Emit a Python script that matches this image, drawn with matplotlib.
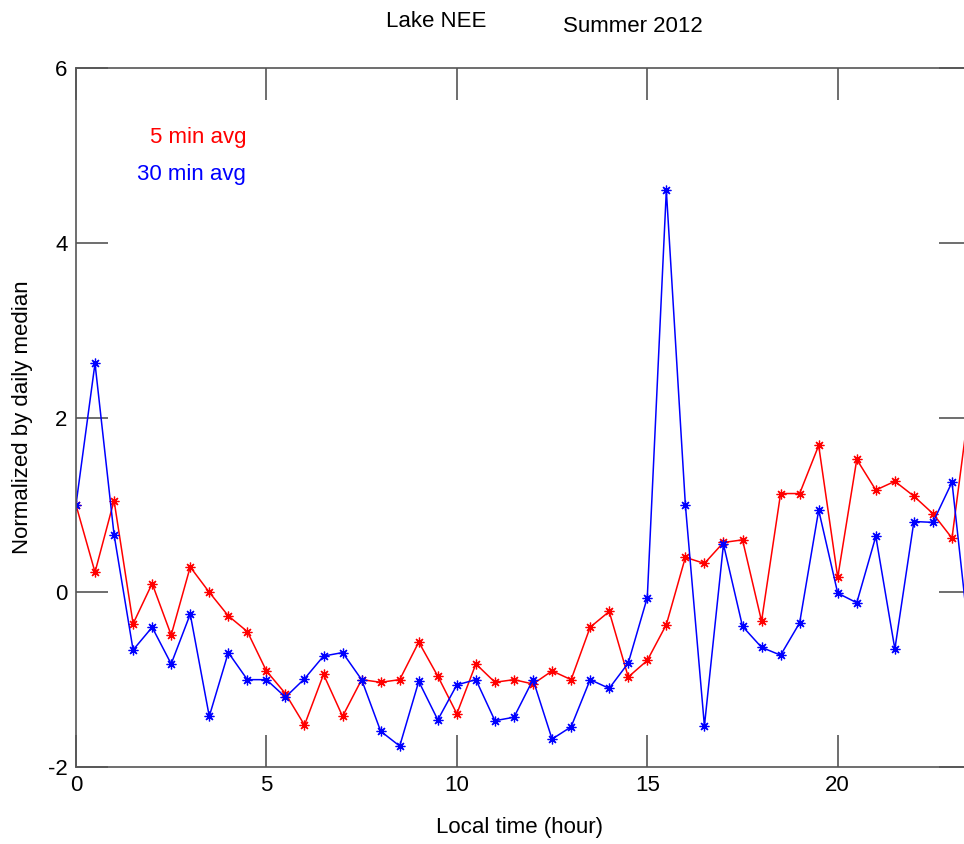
import numpy as np
import matplotlib
matplotlib.use('Agg')
import matplotlib.pyplot as plt

plt.rcParams['font.family'] = ['Liberation Sans', 'DejaVu Sans']
plt.rcParams['axes.unicode_minus'] = False

# hora local, cada media hora
hora = np.arange(0, 24, 0.5)

# promedio de 5 min, normalizado por la mediana diaria
avg5 = [1.0, 0.23, 1.05, -0.36, 0.1, -0.49, 0.29, 0.0, -0.27, -0.45,
        -0.9, -1.16, -1.52, -0.94, -1.42, -1.0, -1.03, -1.0, -0.57, -0.96,
        -1.39, -0.82, -1.03, -1.0, -1.05, -0.9, -1.0, -0.4, -0.22, -0.97,
        -0.78, -0.37, 0.4, 0.33, 0.57, 0.6, -0.33, 1.13, 1.13, 1.68,
        0.17, 1.52, 1.17, 1.27, 1.1, 0.9, 0.62, 2.3]

# promedio de 30 min
avg30 = [1.0, 2.62, 0.66, -0.66, -0.4, -0.82, -0.25, -1.42, -0.69, -1.0,
         -1.0, -1.2, -0.99, -0.73, -0.69, -1.0, -1.59, -1.76, -1.02, -1.46,
         -1.06, -1.0, -1.47, -1.43, -1.0, -1.68, -1.54, -1.0, -1.1, -0.81,
         -0.06, 4.6, 1.0, -1.53, 0.55, -0.39, -0.63, -0.72, -0.35, 0.94,
         -0.01, -0.12, 0.64, -0.65, 0.81, 0.8, 1.26, -0.73]

fig = plt.figure(figsize=(9.64, 8.44), dpi=100)
# el eje se sale un poco por la derecha, como en la figura original
ax = fig.add_axes([0.0788, 0.0912, 0.9285, 0.8282])

ax.plot(hora, avg5, color='red', lw=1.1, marker=(8, 2, 0), ms=7, mew=0.9)
ax.plot(hora, avg30, color='blue', lw=1.1, marker=(8, 2, 0), ms=7, mew=0.9)

ax.set_xlim(0, 23.5)
ax.set_ylim(-2, 6)
ax.set_xticks([0, 5, 10, 15, 20])
ax.set_yticks([-2, 0, 2, 4, 6])

for s in ax.spines.values():
    s.set_color('#555555')
    s.set_linewidth(1.2)
ax.tick_params(direction='in', length=23, width=1.2, color='#555555',
               top=True, right=True, labelsize=16, pad=6)

ax.text(0.19, 0.90, '5 min avg', color='red', fontsize=16, ha='right', va='center',
        transform=ax.transAxes)
ax.text(0.19, 0.848, '30 min avg', color='blue', fontsize=16, ha='right', va='center',
        transform=ax.transAxes)

fig.text(0.452, 0.975, 'Lake NEE', fontsize=16, ha='center', va='center')
fig.text(0.656, 0.969, 'Summer 2012', fontsize=16, ha='center', va='center')
fig.text(0.539, 0.019, 'Local time (hour)', fontsize=16, ha='center', va='center')
fig.text(0.023, 0.506, 'Normalized by daily median', fontsize=16, ha='center',
         va='center', rotation=90)

fig.savefig('out.png', dpi=100)
